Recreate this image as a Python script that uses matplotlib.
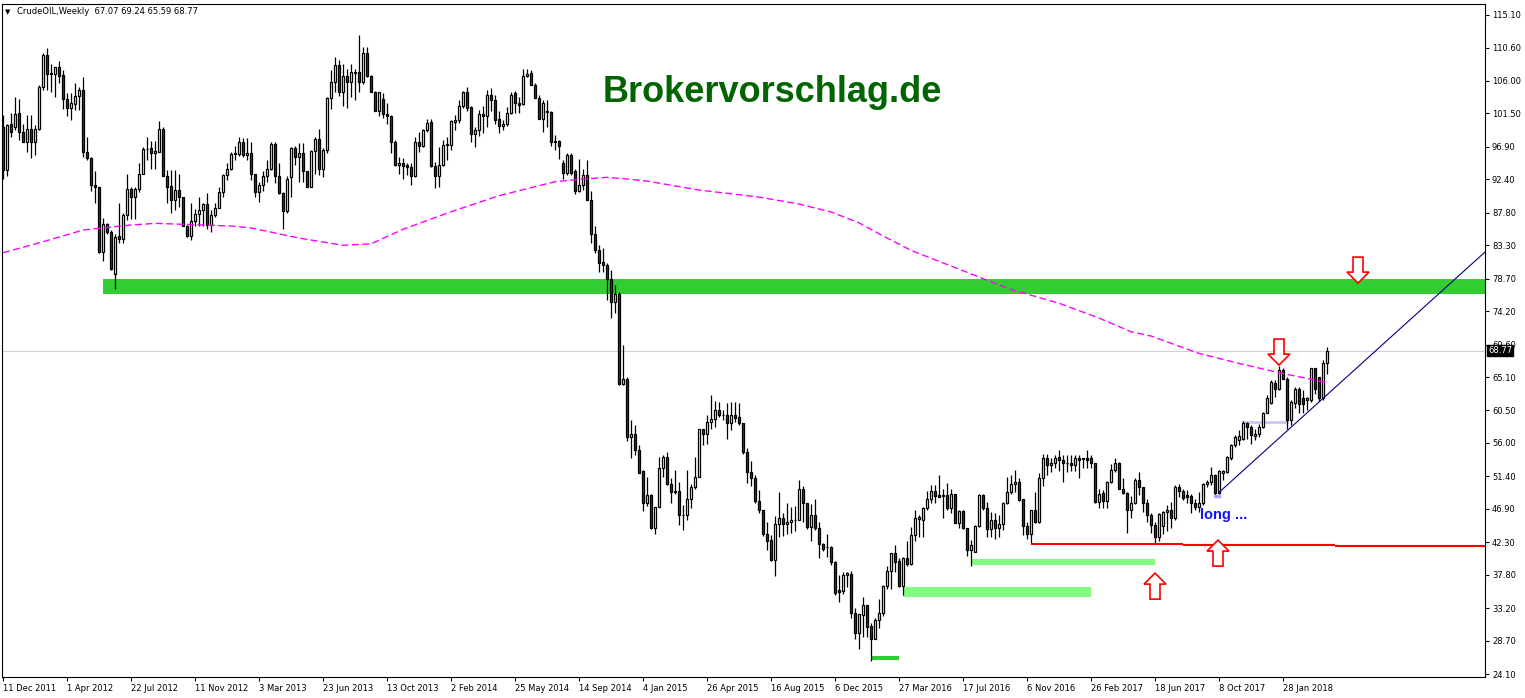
import matplotlib
matplotlib.use("Agg")
import matplotlib.pyplot as plt
from matplotlib.patches import Rectangle, Polygon
import matplotlib.transforms as mtrans

# ---------------- data (weekly candles, index 0 = week of 11 Dec 2011) ----------------
opens = [99.7,93.7,100.1,99.7,101.5,98.9,97.5,99.4,97.6,99.3,105.1,109.6,106.9,107.0,107.9,106.8,103.5,102.2,102.8,103.9,
104.7,96.2,95.4,91.6,91.3,82.4,86.3,85.1,79.3,84.6,84.2,87.5,91.1,89.9,91.1,93.2,96.6,96.7,96.1,96.2,
99.3,92.9,91.5,89.6,91.0,89.9,86.0,84.6,86.6,87.6,88.2,89.0,86.1,87.5,88.5,90.6,93.0,93.8,95.9,95.9,
97.5,95.8,96.1,93.1,90.6,91.6,92.9,93.9,97.3,92.9,90.5,88.1,92.7,96.8,95.5,96.1,93.5,91.4,96.3,98.0,
93.8,96.4,103.7,105.8,108.2,104.5,106.7,105.8,107.2,107.2,105.9,109.9,106.7,104.5,101.9,103.5,101.4,101.1,97.5,94.4,
94.7,94.4,94.1,92.8,97.6,97.0,99.2,100.3,94.2,92.8,94.4,97.1,97.2,100.3,100.6,102.5,104.5,102.4,98.7,99.2,
101.4,101.1,104.0,103.4,100.8,99.8,100.0,101.6,104.3,103.0,102.8,106.7,107.1,105.5,103.7,100.8,101.8,101.7,97.6,97.7,
94.7,93.3,95.8,93.6,90.8,91.6,93.0,89.6,84.9,82.6,81.0,80.6,78.7,75.5,76.6,64.2,64.8,56.8,57.2,55.1,
52.1,47.7,48.8,44.3,47.2,52.6,54.0,50.3,49.3,49.4,46.0,46.0,48.2,49.9,51.3,57.9,57.2,58.9,59.3,60.5,
59.9,59.9,58.7,59.9,59.6,58.7,54.7,52.0,51.1,48.0,46.7,43.5,42.6,39.8,44.8,45.6,44.8,45.1,45.3,45.4,
49.7,47.7,44.4,46.1,44.2,42.1,41.7,41.7,39.6,35.7,35.6,37.8,37.9,32.5,29.7,32.3,33.6,30.7,29.0,31.6,
32.5,36.2,38.3,40.8,39.7,36.2,40.1,39.3,43.3,45.5,45.4,47.0,48.2,49.4,48.8,48.8,48.8,47.0,48.9,45.0,
46.6,44.2,41.2,41.0,44.5,48.8,47.0,44.1,45.4,44.2,44.8,47.7,49.2,50.4,50.6,48.2,44.5,43.4,46.7,45.1,
51.2,53.9,53.0,53.2,54.0,53.7,53.3,53.3,53.0,53.9,53.9,53.9,53.9,53.2,47.9,49.1,48.0,50.6,52.3,53.3,
49.7,49.1,46.7,47.7,50.9,49.9,47.7,46.0,44.7,43.0,44.5,46.5,46.7,45.6,49.95,49.4,48.8,48.7,47.65,47.2,
47.65,50.3,50.6,51.6,49.1,51.9,52.0,53.9,55.7,56.4,56.5,58.8,58.15,56.9,57.2,58.2,60.2,61.55,64.3,63.4,
66.1,64.9,59.2,61.5,63.5,62.15,61.9,61.9,66.3,65.1,62.15,67.07]
highs = [101.3,100.1,101.5,103.8,103.5,100.1,101.3,101.3,99.9,105.4,109.9,110.5,108.4,107.9,108.7,107.5,104.3,104.3,105.7,105.1,
106.6,98.2,95.5,93.5,91.4,87.0,86.4,85.4,84.9,89.1,87.7,93.2,91.4,91.4,94.7,96.9,98.3,97.7,97.7,100.5,
99.6,93.7,93.7,93.7,93.1,90.0,86.1,89.2,88.3,90.0,89.2,90.5,88.2,89.1,91.4,93.2,94.6,96.2,97.0,98.3,
98.1,98.1,97.5,93.1,92.1,93.5,95.1,97.5,97.5,94.7,90.6,92.8,96.9,97.0,97.4,97.4,93.6,96.4,98.2,99.3,
96.7,103.8,107.5,109.3,108.9,108.4,107.6,108.4,107.7,112.3,110.7,110.7,106.8,104.6,104.5,104.3,103.0,101.3,97.8,95.5,
95.4,94.6,94.6,98.2,99.0,99.4,100.7,100.7,94.8,96.9,97.8,98.3,100.6,101.3,103.4,104.6,105.2,102.5,99.7,102.0,
102.5,104.7,105.0,104.1,101.8,100.6,102.4,104.5,104.6,103.8,107.7,107.6,107.5,105.7,104.0,103.4,103.4,101.8,98.5,97.8,
95.1,96.0,96.0,93.9,95.2,93.8,95.1,90.8,85.9,83.3,82.9,80.8,79.9,77.8,76.9,69.5,65.1,59.2,58.5,55.7,
52.3,51.3,49.0,47.2,54.1,54.3,54.8,51.1,52.3,50.6,47.4,52.3,50.4,54.1,57.9,57.9,59.9,62.6,61.8,61.7,
60.5,61.5,61.7,61.6,61.5,58.8,55.3,53.5,51.6,49.5,46.8,45.1,43.3,45.9,49.3,46.3,47.7,47.2,47.3,50.9,
50.0,47.7,47.6,48.3,45.1,42.2,43.4,41.8,39.7,37.8,38.2,38.2,38.3,33.2,32.4,34.7,33.6,31.2,31.9,34.5,
36.4,39.0,40.8,41.9,40.1,40.3,42.4,44.4,46.7,46.0,47.2,49.4,50.2,50.2,51.6,49.6,50.5,49.6,49.0,46.8,
46.7,44.2,42.6,44.7,49.0,49.0,47.9,46.5,46.3,46.0,47.9,51.3,51.6,52.3,51.1,48.2,45.1,46.7,49.3,51.8,
54.5,54.5,53.9,54.3,55.1,54.3,54.3,54.3,54.3,54.3,53.9,55.0,54.3,53.3,49.7,49.5,50.8,53.1,53.9,53.4,
51.1,49.3,48.7,51.1,52.0,49.9,48.2,46.3,45.1,46.4,46.6,47.5,47.8,50.2,50.3,49.7,49.5,49.0,48.3,49.3,
50.5,50.9,52.7,51.7,52.3,52.3,54.2,55.9,57.1,57.8,59.1,58.9,58.5,58.0,58.6,60.3,62.6,64.7,64.7,66.6,
66.4,65.1,61.9,63.8,63.8,63.3,62.4,66.4,66.4,65.1,67.4,69.24]
lows = [92.5,92.8,98.3,99.2,97.8,97.5,96.2,95.4,95.8,99.2,104.7,104.7,104.4,103.8,105.7,102.1,101.1,100.6,102.0,102.0,
95.5,95.1,90.8,89.2,82.2,81.1,84.9,79.9,77.2,83.6,83.6,86.8,86.9,86.9,90.6,93.1,95.1,93.9,93.9,96.2,
92.8,89.1,87.7,88.2,88.6,85.9,84.5,84.0,85.9,85.9,85.9,85.5,85.1,87.2,88.4,90.0,92.3,93.7,95.1,95.6,
95.5,95.1,92.3,90.0,89.3,90.8,92.1,93.7,91.9,90.4,85.6,87.8,90.0,94.4,92.1,92.1,91.3,91.3,93.1,93.0,
92.7,96.1,102.1,104.5,103.9,102.5,102.2,103.8,103.4,104.5,105.6,106.6,104.4,101.8,101.1,100.9,100.1,96.1,94.2,93.1,
92.5,93.0,91.6,92.7,96.2,96.9,99.0,94.1,91.2,91.4,94.2,95.1,96.5,99.2,100.2,102.2,101.8,97.5,96.9,98.4,
98.8,99.7,101.8,100.1,98.8,99.2,99.8,101.4,101.5,101.6,102.7,106.5,105.4,103.6,100.7,99.0,99.7,97.0,96.5,95.2,
92.5,93.0,93.0,90.4,90.7,90.9,89.5,83.6,82.2,79.6,79.6,75.8,73.2,73.9,64.0,64.0,56.3,53.9,54.3,51.9,
46.6,47.3,44.1,43.4,47.2,51.3,50.2,47.7,49.0,44.7,44.0,45.4,47.0,49.7,51.3,55.7,55.9,58.0,58.2,59.6,
59.2,56.5,57.8,58.9,58.5,54.5,50.5,50.0,47.7,46.3,43.1,41.2,39.7,37.6,43.0,43.2,43.4,43.6,43.9,45.4,
45.1,44.1,42.5,44.0,40.1,41.1,40.3,39.1,35.0,34.1,35.2,36.1,31.9,28.9,27.5,29.2,29.2,25.9,28.9,30.4,
32.1,35.9,35.8,38.2,36.1,35.0,39.0,39.1,42.5,43.0,43.0,46.8,47.7,47.7,48.5,45.7,46.7,46.4,44.9,44.2,
44.1,40.4,39.0,41.0,44.4,46.8,43.0,43.0,42.7,43.0,44.0,47.6,49.0,49.3,48.0,43.3,42.8,42.2,44.9,45.0,
50.0,51.6,52.0,52.5,52.1,50.6,52.0,52.2,52.2,51.1,52.5,52.5,52.5,47.7,47.0,47.0,47.0,50.5,52.0,49.6,
49.0,43.6,45.6,47.6,48.8,46.5,45.1,43.6,42.1,42.4,43.5,43.9,44.2,45.35,48.6,48.1,47.7,46.4,46.7,46.5,
47.4,49.95,50.2,48.8,49.0,50.9,51.8,53.7,55.4,55.7,56.4,56.6,55.9,56.4,56.8,58.1,60.1,61.4,62.4,63.3,
64.8,58.0,58.5,60.8,60.1,60.2,60.5,61.7,62.8,61.8,61.9,65.59]
closes = [93.7,99.9,98.9,101.4,98.9,97.5,99.4,97.6,99.4,105.1,109.6,106.9,107.1,107.9,106.7,103.5,102.2,102.9,103.9,104.8,
96.2,95.4,91.6,91.3,82.4,86.3,85.1,80.0,84.5,84.2,87.5,91.1,89.9,91.1,93.2,96.6,96.6,96.1,96.3,99.3,
92.8,91.4,89.6,91.0,89.9,86.0,84.6,86.6,87.6,88.2,89.0,86.1,87.5,88.5,90.6,93.0,93.8,95.9,96.0,97.5,
95.8,96.1,93.1,90.6,91.6,92.9,93.9,97.3,92.9,90.5,88.1,92.5,96.8,95.5,96.1,93.5,91.4,96.3,98.0,93.8,
96.4,103.7,105.8,108.2,104.5,106.7,105.8,107.2,107.1,105.9,109.9,106.7,104.5,101.9,104.4,101.4,101.1,97.5,94.4,94.7,
94.2,94.1,92.8,97.6,97.0,99.2,100.2,94.2,92.8,94.4,97.1,97.3,100.4,100.6,102.5,104.5,102.3,98.7,99.2,101.4,
101.1,104.0,103.3,100.6,99.8,100.0,101.6,104.1,103.0,102.7,106.7,107.0,105.5,103.7,100.8,102.9,101.7,97.6,97.7,97.0,
93.3,95.8,93.3,90.8,91.6,93.0,89.5,84.9,82.6,80.9,80.6,78.7,75.5,76.6,64.1,64.8,56.8,57.2,55.1,51.9,
47.7,48.8,44.3,47.2,52.6,54.0,50.3,49.3,49.4,46.0,46.1,48.2,49.9,51.3,57.9,57.2,58.9,59.3,60.5,59.9,
59.8,58.7,59.9,59.5,58.7,54.7,52.0,51.1,48.0,46.7,43.4,42.5,39.8,44.8,45.6,44.8,45.1,45.3,45.4,49.7,
47.7,44.4,46.1,44.2,42.0,41.4,41.6,39.5,35.3,35.4,37.8,38.0,32.5,29.7,32.4,33.6,30.6,29.0,31.6,32.5,
36.3,38.3,40.8,39.6,36.2,40.1,39.3,43.3,45.7,45.8,47.0,48.2,49.4,48.7,48.6,48.7,47.0,48.9,45.0,46.6,
44.2,41.2,41.9,44.5,48.8,47.0,44.1,45.4,44.2,44.8,47.7,49.2,50.4,50.6,48.1,44.5,43.4,46.7,45.1,51.2,
53.9,53.0,53.2,53.9,53.6,53.2,53.2,52.9,53.9,53.7,53.8,53.7,53.2,47.9,49.0,48.0,50.6,52.3,53.3,49.7,
49.1,46.7,47.7,50.9,49.9,47.7,46.0,44.7,43.0,46.2,46.5,46.7,45.6,49.95,49.4,48.35,48.6,47.65,47.2,47.65,
50.3,50.6,51.6,49.1,52.2,52.2,54.1,55.7,56.8,56.9,58.8,58.15,57.1,57.3,58.2,60.2,62.15,64.45,63.4,66.1,
64.9,59.2,61.7,63.5,61.4,61.4,62.15,66.3,63.5,62.15,66.99,68.77]

# moving average (bar index, price)
ma_idx = [0, 10, 20, 24, 32, 38, 45, 57, 62, 74, 85, 92, 100, 112, 124, 132, 138, 144, 151, 157, 161,
          174, 189, 199, 207, 214, 220, 227, 239, 252, 264, 274, 282, 287, 299, 309, 319, 326, 331]
ma_val = [82.27, 83.79, 85.40, 85.64, 86.10, 86.33, 86.20, 85.96, 85.70, 84.3, 83.3, 83.5, 85.5, 87.93,
          90.14, 91.25, 92.08, 92.40, 92.68, 92.40, 92.17, 90.93, 89.96, 89.0, 87.9, 86.4, 84.6, 82.6,
          80.0, 77.2, 75.3, 73.25, 71.36, 70.77, 68.37, 66.99, 65.70, 64.92, 64.32]

ytick_labels = ["115.10", "110.60", "106.00", "101.50", "96.90", "92.40", "87.80", "83.30", "78.70", "74.20",
                "69.60", "65.10", "60.50", "56.00", "51.40", "46.90", "42.30", "37.80", "33.20", "28.70", "24.10"]
xtick_labels = ["11 Dec 2011", "1 Apr 2012", "22 Jul 2012", "11 Nov 2012", "3 Mar 2013", "23 Jun 2013",
                "13 Oct 2013", "2 Feb 2014", "25 May 2014", "14 Sep 2014", "4 Jan 2015", "26 Apr 2015",
                "16 Aug 2015", "6 Dec 2015", "27 Mar 2016", "17 Jul 2016", "6 Nov 2016", "26 Feb 2017",
                "18 Jun 2017", "8 Oct 2017", "28 Jan 2018"]
xtick_step = 16
last_price = 68.77
header = "CrudeOIL,Weekly  67.07 69.24 65.59 68.77"

# drawn objects (levels)
resistance_zone = (25, 76.57, 78.64)
light_zones = [(225, 272, 34.76, 36.06), (242.25, 288, 39.14, 39.97)]
low_mark = (217.2, 224, 26.0, 26.57)
support_segments = [(257, 295, 42.08), (295, 333, 41.85), (333, 371, 41.72)]
trend_pts = ([304, 370.5], [49.18, 82.37])
lav_line = (310, 321, 58.93)
lav_mark = (303, 304, 48.7)
arrows = [(319, 66.76, "down"), (338.75, 78.08, "down"), (303.75, 42.59, "up"), (288, 38.03, "up")]

# ---------------- figure ----------------
W, H = 1525, 698
fig = plt.figure(figsize=(W / 100, H / 100), dpi=100)
Lp, Rp, Tp, Bp = 2, 1485, 4, 677
ax = fig.add_axes([Lp / W, 1 - Bp / H, (Rp - Lp) / W, (Bp - Tp) / H])
ppx = 91.0 / 659.0          # price per pixel
ax.set_ylim(24.10 - (Bp - 674) * ppx, 115.10 + (15 - Tp) * ppx)
ax.set_xlim((Lp - 3) / 4.0, (Rp - 3) / 4.0)

for s in ax.spines.values():
    s.set_linewidth(0.8)
    s.set_color("black")

# price line
ax.axhline(last_price, color="#d0d0d8", lw=0.8, zorder=0)

# zones
ax.add_patch(Rectangle((resistance_zone[0], resistance_zone[1]), 400, resistance_zone[2] - resistance_zone[1],
                       facecolor="#32cd32", edgecolor="none", zorder=1))
for x0, x1, y0, y1 in light_zones:
    ax.add_patch(Rectangle((x0, y0), x1 - x0, y1 - y0, facecolor="#80ff80", edgecolor="none", zorder=1))
ax.add_patch(Rectangle((low_mark[0], low_mark[2]), low_mark[1] - low_mark[0], low_mark[3] - low_mark[2],
                       facecolor="#32cd32", edgecolor="none", zorder=1))

# candles
idx = list(range(len(closes)))
ax.vlines(idx, lows, highs, color="black", lw=0.9, zorder=3)
bull = [i for i in idx if closes[i] >= opens[i]]
bear = [i for i in idx if closes[i] < opens[i]]
ax.bar(bull, [closes[i] - opens[i] for i in bull], bottom=[opens[i] for i in bull], width=0.6,
       color="white", edgecolor="black", linewidth=0.9, zorder=4)
ax.bar(bear, [opens[i] - closes[i] for i in bear], bottom=[closes[i] for i in bear], width=0.6,
       color="#d00000", edgecolor="black", linewidth=0.9, zorder=4)

# moving average
ax.plot(ma_idx, ma_val, color="#ff00ff", lw=1.0, linestyle=(0, (5, 2.5)), zorder=5)

# support line, trend line, marks
for x0, x1, y in support_segments:
    ax.plot([x0, x1], [y, y], color="#ff0000", lw=1.5, zorder=5, solid_capstyle="butt")
ax.plot(trend_pts[0], trend_pts[1], color="#000080", lw=0.8, zorder=5)
ax.plot([lav_line[0], lav_line[1]], [lav_line[2], lav_line[2]], color="#c8c8f0", lw=2.0, zorder=2)
ax.plot([lav_mark[0], lav_mark[1]], [lav_mark[2], lav_mark[2]], color="#a8a8f0", lw=2.5, zorder=5)

# arrows (hollow, red outline)
def arrow(xc, ytip, direction):
    sx = 0.25          # index per pixel
    pts_px = [(0, 0), (-11, 11), (-5, 11), (-5, 26), (5, 26), (5, 11), (11, 11)]
    sgn = 1 if direction == "down" else -1
    pts = [(xc + px * sx, ytip + sgn * py * ppx) for px, py in pts_px]
    ax.add_patch(Polygon(pts, closed=True, facecolor="white", edgecolor="#ff0000", lw=1.2, zorder=6))

for a in arrows:
    arrow(*a)

ax.text(1200 / 4.0 - 0.75, 46.1, "long ...", color="#1010ff", fontsize=10.5, fontweight="bold",
        family="Liberation Sans", va="center", ha="left", zorder=7)

# axes ticks
ax.yaxis.tick_right()
ax.set_yticks([float(t) for t in ytick_labels])
ax.set_yticklabels(ytick_labels)
ax.tick_params(axis="y", direction="out", length=3, width=0.8, pad=2, labelsize=6, colors="black")
ax.set_xticks([i * xtick_step for i in range(len(xtick_labels))])
ax.set_xticklabels(xtick_labels)
ax.tick_params(axis="x", direction="out", length=3, width=0.8, pad=2, labelsize=6, colors="black")
for lbl in ax.get_xticklabels():
    lbl.set_ha("left")

# last price box (covers part of the 69.60 label, as in the original)
tr = mtrans.blended_transform_factory(ax.transAxes, ax.transData)
ax.text(1.0 + 3 / (Rp - Lp), last_price, f"{last_price:.2f}", transform=tr, fontsize=6, color="white",
        va="center", ha="left", zorder=8,
        bbox=dict(boxstyle="square,pad=0.15", facecolor="black", edgecolor="black"))

# header and watermark text
fig.text(5 / W, 1 - 12 / H, "\u25bc", fontsize=5, va="center", ha="left", color="black")
fig.text(17 / W, 1 - 12 / H, header, fontsize=6, va="center", ha="left", color="black")
fig.text(603 / W, 1 - 92 / H, "Brokervorschlag.de", fontsize=26, fontweight="bold", family="Liberation Sans",
         color="#006400", va="center", ha="left")

fig.savefig("out.png", dpi=100)
